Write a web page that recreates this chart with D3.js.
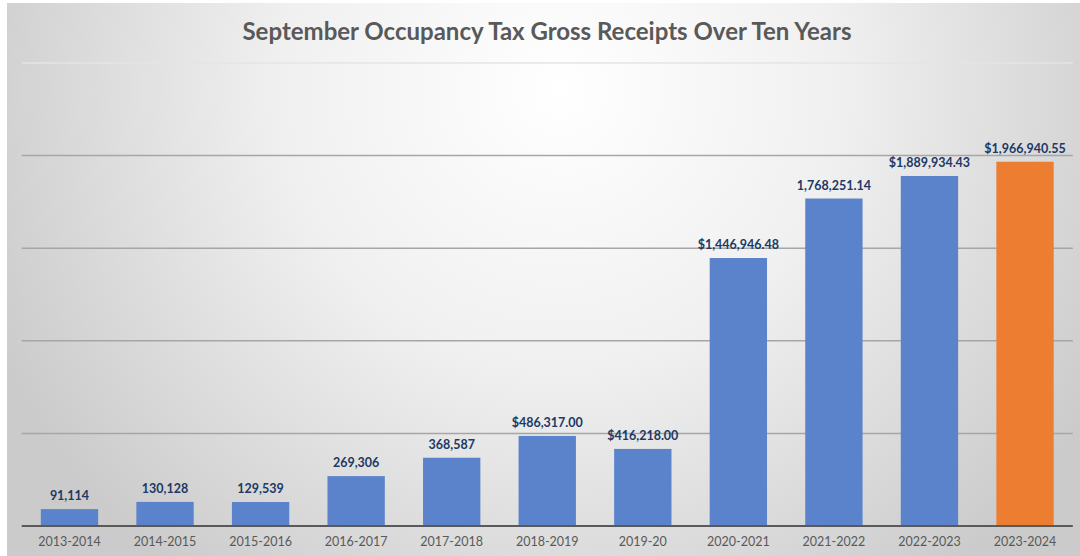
<!DOCTYPE html>
<html>
<head>
<meta charset="utf-8">
<script src="https://cdn.jsdelivr.net/npm/d3@7"></script>
<style>
  body { margin: 0; background: #fff; }
  svg { display: block; }
</style>
</head>
<body>
<svg id="chart"></svg>
<script>
// data
var seasons = ['2013-2014', '2014-2015', '2015-2016', '2016-2017', '2017-2018', '2018-2019',
  '2019-20', '2020-2021', '2021-2022', '2022-2023', '2023-2024'];
var receipts = [91114, 130128, 129539, 269306, 368587, 486317.00, 416218.00,
  1446946.48, 1768251.14, 1889934.43, 1966940.55];
var labels = ['91,114', '130,128', '129,539', '269,306', '368,587', '$486,317.00', '$416,218.00',
  '$1,446,946.48', '1,768,251.14', '$1,889,934.43', '$1,966,940.55'];
var gridValues = [500000, 1000000, 1500000, 2000000, 2500000];

var W = 1080, H = 556;
var svg = d3.select('#chart').attr('width', W).attr('height', H);

// background gradient
var defs = svg.append('defs');
var grad = defs.append('radialGradient')
  .attr('id', 'bg')
  .attr('gradientUnits', 'userSpaceOnUse')
  .attr('cx', 560).attr('cy', 90).attr('r', 620);
grad.append('stop').attr('offset', '0%').attr('stop-color', '#ffffff');
grad.append('stop').attr('offset', '45%').attr('stop-color', '#f0f0f0');
grad.append('stop').attr('offset', '100%').attr('stop-color', '#cbcbcb');

svg.append('rect')
  .attr('x', 7).attr('y', 3)
  .attr('width', W - 7).attr('height', H - 3)
  .attr('fill', 'url(#bg)');

// title
svg.append('text')
  .attr('x', 547)
  .attr('y', 40)
  .attr('text-anchor', 'middle')
  .style('font-family', 'Lato, "Open Sans", sans-serif')
  .style('font-weight', 'bold')
  .style('font-size', '24px')
  .style('fill', '#595959')
  .text('September Occupancy Tax Gross Receipts Over Ten Years');

// scales
var x = d3.scaleBand()
  .domain(seasons)
  .range([21.7, 1072.8])
  .paddingInner(0.4)
  .paddingOuter(0.2);

var y = d3.scaleLinear()
  .domain([0, 2500000])
  .range([526, 63]);

// gridlines
svg.append('g')
  .selectAll('line')
  .data(gridValues)
  .enter()
  .append('line')
  .attr('x1', 21.7)
  .attr('x2', 1072.8)
  .attr('y1', function(d) { return y(d); })
  .attr('y2', function(d) { return y(d); })
  .attr('stroke', function(d) { return d == 2500000 ? '#e4e4e4' : '#a6a6a6'; })
  .attr('stroke-width', 1.5);

// bars
svg.append('g')
  .selectAll('rect')
  .data(receipts)
  .enter()
  .append('rect')
  .attr('x', function(d, i) { return x(seasons[i]); })
  .attr('y', function(d) { return y(d); })
  .attr('width', x.bandwidth())
  .attr('height', function(d) { return y(0) - y(d); })
  .attr('fill', function(d, i) { return i == seasons.length - 1 ? '#ed7d31' : '#5a83cb'; });

// baseline
svg.append('line')
  .attr('x1', 21.7)
  .attr('x2', 1072.8)
  .attr('y1', y(0))
  .attr('y2', y(0))
  .attr('stroke', '#595959')
  .attr('stroke-width', 2);

// value labels
svg.append('g')
  .selectAll('text')
  .data(receipts)
  .enter()
  .append('text')
  .attr('x', function(d, i) { return x(seasons[i]) + x.bandwidth() / 2; })
  .attr('y', function(d) { return y(d) - 9; })
  .attr('text-anchor', 'middle')
  .style('font-family', 'Lato, "Open Sans", sans-serif')
  .style('font-weight', 'bold')
  .style('font-size', '12.5px')
  .style('fill', '#203864')
  .text(function(d, i) { return labels[i]; });

// x axis
var xAxis = svg.append('g')
  .attr('transform', 'translate(0,' + y(0) + ')')
  .call(d3.axisBottom(x).tickSize(0).tickPadding(11));
xAxis.select('.domain').remove();
xAxis.selectAll('text')
  .style('font-family', 'Lato, "Open Sans", sans-serif')
  .style('font-size', '12.5px')
  .style('fill', '#595959');
</script>
</body>
</html>
